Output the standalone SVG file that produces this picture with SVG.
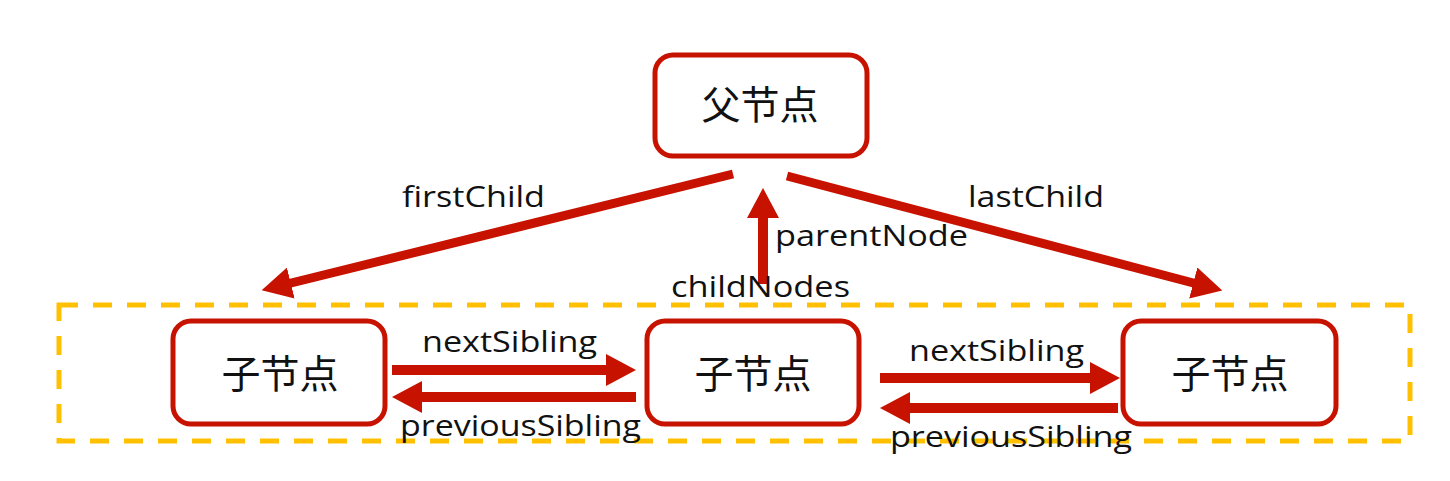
<svg xmlns="http://www.w3.org/2000/svg" width="1450" height="481" viewBox="0 0 1450 481">
<style>
.box{fill:#fff;stroke:#c81200;stroke-width:5}
.cjk{font-family:"Noto Sans CJK SC","Noto Sans",sans-serif;font-size:39px;fill:#111;text-anchor:middle}
.lbl{font-family:"Open Sans","Noto Sans",sans-serif;font-size:30px;fill:#111}
.arr{stroke:#c81200;stroke-width:10;fill:none}
.dash{fill:none;stroke:#ffc000;stroke-width:5;stroke-dasharray:19 15}
</style>
<defs>
<marker id="ah" markerUnits="userSpaceOnUse" markerWidth="30" markerHeight="32" refX="8" refY="16" orient="auto">
<path d="M0,0 L30,16 L0,32 z" fill="#c81200"/>
</marker>
</defs>
<rect class="dash" x="59" y="305" width="1351" height="136"/>
<g id="parent">
<rect class="box" x="655" y="55" width="212" height="101" rx="18"/>
<text class="cjk" x="760" y="119">父节点</text>
</g>
<g id="child1">
<rect class="box" x="173" y="321" width="212" height="103" rx="18"/>
<text class="cjk" x="280" y="388">子节点</text>
</g>
<g id="child2">
<rect class="box" x="647" y="321" width="212" height="103" rx="18"/>
<text class="cjk" x="753" y="388">子节点</text>
</g>
<g id="child3">
<rect class="box" x="1123" y="321" width="213" height="103" rx="18"/>
<text class="cjk" x="1230" y="388">子节点</text>
</g>
<g id="connectors">
<line class="arr" x1="733" y1="174" x2="283" y2="285" marker-end="url(#ah)" style="stroke-width:9"/>
<line class="arr" x1="787" y1="176" x2="1201" y2="285" marker-end="url(#ah)" style="stroke-width:9"/>
<line class="arr" x1="763" y1="284" x2="763" y2="210" marker-end="url(#ah)"/>
<line class="arr" x1="392" y1="370" x2="614" y2="370" marker-end="url(#ah)"/>
<line class="arr" x1="636" y1="397" x2="414" y2="397" marker-end="url(#ah)"/>
<line class="arr" x1="880" y1="378" x2="1098" y2="378" marker-end="url(#ah)"/>
<line class="arr" x1="1118" y1="408" x2="902" y2="408" marker-end="url(#ah)"/>
</g>
<g id="labels">
<text class="lbl" x="402" y="207" textLength="143" lengthAdjust="spacingAndGlyphs">firstChild</text>
<text class="lbl" x="968" y="207" textLength="136" lengthAdjust="spacingAndGlyphs">lastChild</text>
<text class="lbl" x="775" y="246" textLength="193" lengthAdjust="spacingAndGlyphs">parentNode</text>
<text class="lbl" x="671" y="297" textLength="179" lengthAdjust="spacingAndGlyphs">childNodes</text>
<text class="lbl" x="422" y="352" textLength="175" lengthAdjust="spacingAndGlyphs">nextSibling</text>
<text class="lbl" x="400" y="436" textLength="241" lengthAdjust="spacingAndGlyphs">previousSibling</text>
<text class="lbl" x="909" y="361" textLength="175" lengthAdjust="spacingAndGlyphs">nextSibling</text>
<text class="lbl" x="890" y="447" textLength="242" lengthAdjust="spacingAndGlyphs">previousSibling</text>
</g>
</svg>
